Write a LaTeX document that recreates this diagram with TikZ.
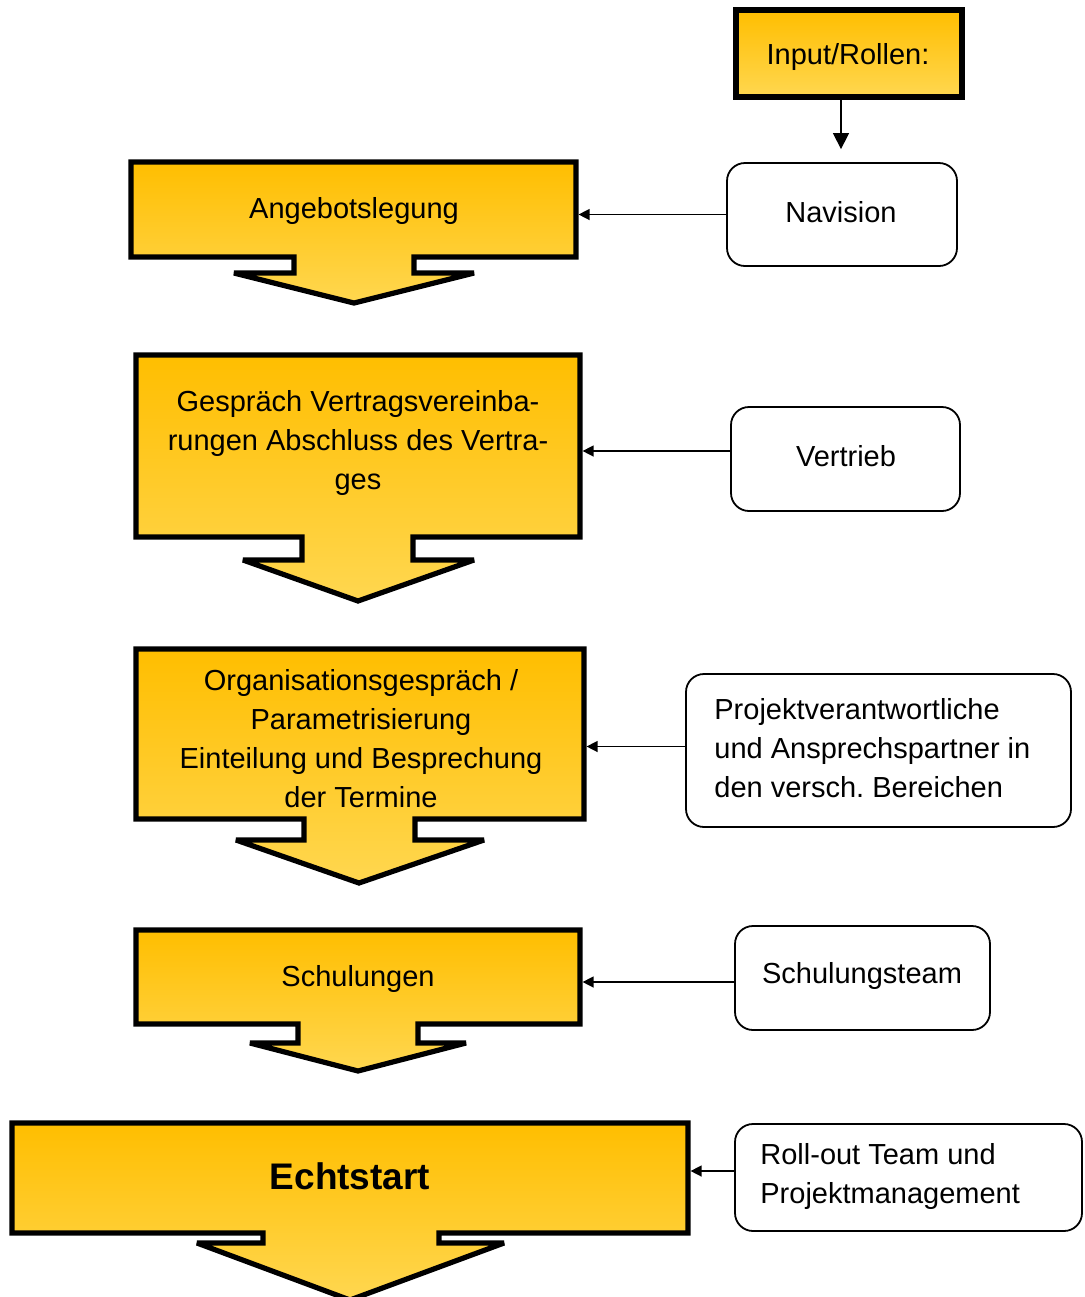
\documentclass[tikz,border=0pt]{standalone}
\usepackage{fontspec}
\setmainfont{Liberation Sans}
\frenchspacing
\usetikzlibrary{arrows.meta}
\definecolor{goldtop}{RGB}{255,190,0}
\definecolor{goldbot}{RGB}{255,215,80}
\tikzset{
  callout/.style={shade, top color=goldtop, bottom color=goldbot, draw=black, line width=2.6pt, line join=miter, miter limit=2.2},
  flowtext/.style={draw=none, inner sep=0pt, outer sep=1.3pt, align=center, font=\fontsize{14.5}{19.5}\selectfont},
  rolebox/.style={draw=black, line width=0.9pt, rounded corners=9pt, fill=white, inner sep=0pt, font=\fontsize{14.5}{19.5}\selectfont},
  conn/.style={draw=black, line width=0.7pt, -{Triangle[length=5.5pt,width=5.5pt]}},
}
\begin{document}
\begin{tikzpicture}[x=0.5pt,y=-0.5pt]
\useasboundingbox (0,0) rectangle (1084,1297);

% Input/Rollen
\path[callout] (736,10) rectangle (962,97);
\node[flowtext, minimum width=113pt, minimum height=43.5pt] (in) at (849,53.5) {};
\node[flowtext] (intxt) at (848,57) {Input/Rollen:};

% 1 Angebotslegung
\path[callout] (131,162) -- (576,162) -- (576,257) -- (414,257) -- (414,273) -- (474,273) -- (354,303) -- (234,273) -- (294,273) -- (294,257) -- (131,257) -- cycle;
\node[flowtext, minimum width=222.5pt, minimum height=47.5pt] (b1) at (353.5,209.5) {};
\node[flowtext] (b1t) at (354,211) {Angebotslegung};

% 2 Gespraech
\path[callout] (136,355) -- (580,355) -- (580,537) -- (413,537) -- (413,560) -- (474,560) -- (358,601) -- (243,560) -- (302,560) -- (302,537) -- (136,537) -- cycle;
\node[flowtext, minimum width=222pt, minimum height=91pt] (b2) at (358,446) {};
\node[flowtext] (b2t) at (358,443) {Gespräch Vertragsvereinba-\\rungen Abschluss des Vertra-\\ges};

% 3 Organisation
\path[callout] (136,649) -- (584,649) -- (584,819) -- (415,819) -- (415,840) -- (484,840) -- (359,883) -- (236,840) -- (304,840) -- (304,819) -- (136,819) -- cycle;
\node[flowtext, minimum width=224pt, minimum height=85pt] (b3) at (360,734) {};
\node[flowtext] (b3t) at (361,739) {Organisationsgespräch /\\Parametrisierung\\Einteilung und Besprechung\\der Termine};

% 4 Schulungen
\path[callout] (136,930) -- (580,930) -- (580,1024) -- (418,1024) -- (418,1043) -- (466,1043) -- (358,1071) -- (250,1043) -- (298,1043) -- (298,1024) -- (136,1024) -- cycle;
\node[flowtext, minimum width=222pt, minimum height=47pt] (b4) at (358,977) {};
\node[flowtext] (b4t) at (358,979) {Schulungen};

% 5 Echtstart
\path[callout] (12,1123) -- (688,1123) -- (688,1233) -- (439,1233) -- (439,1243) -- (504,1243) -- (350,1300) -- (197,1243) -- (263,1243) -- (263,1233) -- (12,1233) -- cycle;
\node[flowtext, minimum width=338pt, minimum height=55pt] (b5) at (350,1178) {};
\node[flowtext, font=\fontsize{18.5}{22}\selectfont\bfseries] (b5t) at (350,1176) {Echtstart};

% Role boxes
\node[rolebox, minimum width=115pt, minimum height=51.5pt] (nav) at (842,214.5) {};
\node[draw=none, inner sep=0pt, font=\fontsize{14.5}{19.5}\selectfont] (navt) at (841,212) {Navision};
\node[rolebox, minimum width=114.5pt, minimum height=52pt] (vt) at (845.5,459) {};
\node[draw=none, inner sep=0pt, font=\fontsize{14.5}{19.5}\selectfont] (vtt) at (846,456) {Vertrieb};
\node[rolebox, minimum width=192.5pt, minimum height=76.5pt] (pv) at (878.5,750.5) {};
\node[draw=none, inner sep=0pt, align=left, anchor=west, font=\fontsize{14.5}{19.5}\selectfont] (pvt) at (714,748) {Projektverantwortliche\\und Ansprechspartner in\\den versch. Bereichen};
\node[rolebox, minimum width=127.5pt, minimum height=52pt] (st) at (862.5,978) {};
\node[draw=none, inner sep=0pt, font=\fontsize{14.5}{19.5}\selectfont] (stt) at (862,976) {Schulungsteam};
\node[rolebox, minimum width=173.5pt, minimum height=53.5pt] (ro) at (908.5,1177.5) {};
\node[draw=none, inner sep=0pt, align=left, anchor=west, font=\fontsize{14.5}{19.5}\selectfont] (rot) at (760,1176) {Roll-out Team und\\Projektmanagement};

% Connectors
\draw[conn, -{Triangle[length=8pt,width=8pt]}, shorten >=6.5pt] ([xshift=-4pt]in.south) -- ([xshift=-4pt]nav.north -| in.south);
\draw[conn] (nav.west) -- (nav.west -| b1.east);
\draw[conn] ([yshift=4pt]vt.west) -- ([yshift=4pt]vt.west -| b2.east);
\draw[conn] ([yshift=2pt]pv.west) -- ([yshift=2pt]pv.west -| b3.east);
\draw[conn] ([yshift=-2pt]st.west) -- ([yshift=-2pt]st.west -| b4.east);
\draw[conn] ([yshift=3.25pt]ro.west) -- ([yshift=3.25pt]ro.west -| b5.east);
\end{tikzpicture}
\end{document}
